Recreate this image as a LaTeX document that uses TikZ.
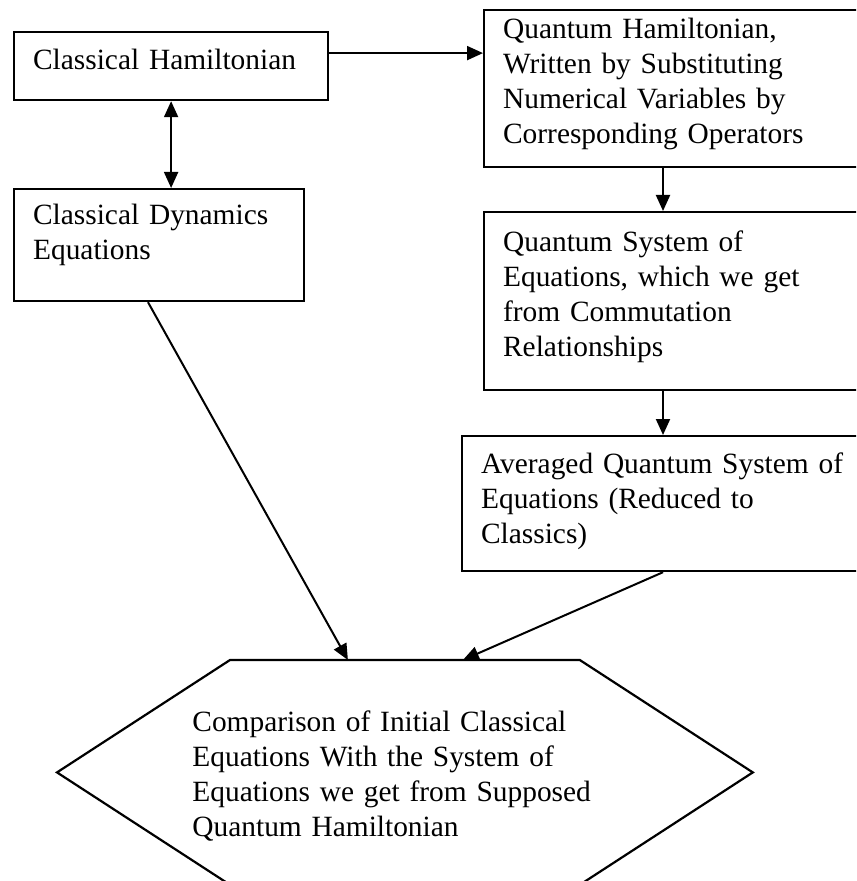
\documentclass[tikz,border=0pt]{standalone}
\usepackage{fontspec}
\setmainfont{Liberation Serif}
\usetikzlibrary{arrows.meta,calc}

\begin{document}
\begin{tikzpicture}[
  x=0.5pt, y=-0.5pt,
  font=\fontsize{14.7pt}{17.5pt}\selectfont,
  stage/.style={
    rectangle, draw, line width=1.1pt, anchor=north west,
    align=left, inner xsep=9.5pt, inner ysep=0pt
  },
  hexbox/.style={
    rectangle, anchor=north west,
    align=left, inner xsep=67.5pt, inner ysep=0pt
  },
  link/.style={->, >={Triangle[length=8pt,width=7pt]}, line width=1pt}
]
\useasboundingbox (0,0) rectangle (856,881);
\clip (0,0) rectangle (856,881);

\node[stage, text width=138pt, text height=18.5pt, text depth=15.5pt]
  (ch) at (13,31) {Classical Hamiltonian};

\node[stage, text width=126pt, text height=17.5pt, text depth=38.5pt]
  (cd) at (13,188) {Classical Dynamics\\ Equations};

\node[stage, text width=190pt, text height=14pt, text depth=64.5pt]
  (qh) at (483,9) {%
  Quantum Hamiltonian,\\
  Written by Substituting\\
  Numerical Variables by\\
  Corresponding Operators%
};

\node[stage, text width=190pt, text height=19.5pt, text depth=69.5pt]
  (qs) at (483,211) {%
  Quantum System of\\
  Equations, which we get\\
  from Commutation\\
  Relationships%
};

\node[stage, text width=190pt, text height=18.5pt, text depth=49pt]
  (av) at (461,435) {%
  Averaged Quantum System of\\
  Equations (Reduced to\\
  Classics)%
};

\node[hexbox, text width=212.5pt, text height=35.5pt, text depth=76.5pt]
  (cmp) at (57,660) {%
  Comparison of Initial Classical\\
  Equations With the System of\\
  Equations we get from Supposed\\
  Quantum Hamiltonian%
};
% hexagon outline round the comparison node
\draw[line width=1.1pt] (cmp.west) -- ($(cmp.north west)+(173,0)$)
  -- ($(cmp.north east)+(-173,0)$) -- (cmp.east)
  -- ($(cmp.south east)+(-173,0)$) -- ($(cmp.south west)+(173,0)$) -- cycle;

\coordinate (qd) at ($(qh.south west)+(180,0)$);
\coordinate (sd) at ($(qs.south west)+(180,0)$);

\draw[link] ([yshift=6.5pt]ch.east) -- ([yshift=6.5pt]ch.east -| qh.west);
\draw[link, <->] (ch.south) -- (ch.south |- cd.north);
\draw[link] (qd) -- (qd |- qs.north);
\draw[link] (sd) -- (sd |- av.north);
\draw[link] ($(cd.south west)+(135,0)$) -- ($(cmp.north)+(-57,0)$);
\draw[link] ($(av.south west)+(202,0)$) -- ($(cmp.north)+(58,0)$);
\end{tikzpicture}
\end{document}
